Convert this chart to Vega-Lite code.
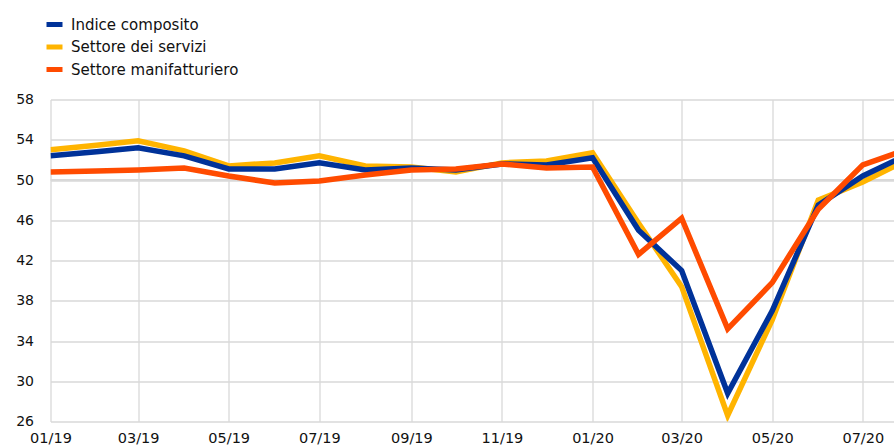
{
  "$schema": "https://vega.github.io/schema/vega-lite/v6.json",
  "autosize": {"type": "none"},
  "padding": {"left": 50.5, "top": 99.5, "right": 0, "bottom": 23.5},
  "width": 843.5,
  "height": 322,
  "background": "white",
  "config": {
    "view": {"stroke": null},
    "font": "DejaVu Sans"
  },
  "datasets": {
    "pmi": [
      {"date": "2019-01-01", "series": "Settore dei servizi", "value": 53.0},
      {"date": "2019-02-01", "series": "Settore dei servizi", "value": 53.45},
      {"date": "2019-03-01", "series": "Settore dei servizi", "value": 53.9},
      {"date": "2019-04-01", "series": "Settore dei servizi", "value": 52.9},
      {"date": "2019-05-01", "series": "Settore dei servizi", "value": 51.4},
      {"date": "2019-06-01", "series": "Settore dei servizi", "value": 51.7},
      {"date": "2019-07-01", "series": "Settore dei servizi", "value": 52.4},
      {"date": "2019-08-01", "series": "Settore dei servizi", "value": 51.4},
      {"date": "2019-09-01", "series": "Settore dei servizi", "value": 51.3},
      {"date": "2019-10-01", "series": "Settore dei servizi", "value": 50.8},
      {"date": "2019-11-01", "series": "Settore dei servizi", "value": 51.7},
      {"date": "2019-12-01", "series": "Settore dei servizi", "value": 51.9},
      {"date": "2020-01-01", "series": "Settore dei servizi", "value": 52.7},
      {"date": "2020-02-01", "series": "Settore dei servizi", "value": 45.7},
      {"date": "2020-03-01", "series": "Settore dei servizi", "value": 39.4},
      {"date": "2020-04-01", "series": "Settore dei servizi", "value": 26.6},
      {"date": "2020-05-01", "series": "Settore dei servizi", "value": 36.1},
      {"date": "2020-06-01", "series": "Settore dei servizi", "value": 48.0},
      {"date": "2020-07-01", "series": "Settore dei servizi", "value": 49.8},
      {"date": "2020-08-01", "series": "Settore dei servizi", "value": 52.1},
      {"date": "2019-01-01", "series": "Indice composito", "value": 52.4},
      {"date": "2019-02-01", "series": "Indice composito", "value": 52.8},
      {"date": "2019-03-01", "series": "Indice composito", "value": 53.2},
      {"date": "2019-04-01", "series": "Indice composito", "value": 52.4},
      {"date": "2019-05-01", "series": "Indice composito", "value": 51.1},
      {"date": "2019-06-01", "series": "Indice composito", "value": 51.1},
      {"date": "2019-07-01", "series": "Indice composito", "value": 51.7},
      {"date": "2019-08-01", "series": "Indice composito", "value": 51.0},
      {"date": "2019-09-01", "series": "Indice composito", "value": 51.2},
      {"date": "2019-10-01", "series": "Indice composito", "value": 51.0},
      {"date": "2019-11-01", "series": "Indice composito", "value": 51.6},
      {"date": "2019-12-01", "series": "Indice composito", "value": 51.5},
      {"date": "2020-01-01", "series": "Indice composito", "value": 52.2},
      {"date": "2020-02-01", "series": "Indice composito", "value": 45.0},
      {"date": "2020-03-01", "series": "Indice composito", "value": 41.0},
      {"date": "2020-04-01", "series": "Indice composito", "value": 28.8},
      {"date": "2020-05-01", "series": "Indice composito", "value": 37.0},
      {"date": "2020-06-01", "series": "Indice composito", "value": 47.5},
      {"date": "2020-07-01", "series": "Indice composito", "value": 50.4},
      {"date": "2020-08-01", "series": "Indice composito", "value": 52.6},
      {"date": "2019-01-01", "series": "Settore manifatturiero", "value": 50.8},
      {"date": "2019-02-01", "series": "Settore manifatturiero", "value": 50.9},
      {"date": "2019-03-01", "series": "Settore manifatturiero", "value": 51.0},
      {"date": "2019-04-01", "series": "Settore manifatturiero", "value": 51.2},
      {"date": "2019-05-01", "series": "Settore manifatturiero", "value": 50.4},
      {"date": "2019-06-01", "series": "Settore manifatturiero", "value": 49.7},
      {"date": "2019-07-01", "series": "Settore manifatturiero", "value": 49.9},
      {"date": "2019-08-01", "series": "Settore manifatturiero", "value": 50.5},
      {"date": "2019-09-01", "series": "Settore manifatturiero", "value": 51.0},
      {"date": "2019-10-01", "series": "Settore manifatturiero", "value": 51.1},
      {"date": "2019-11-01", "series": "Settore manifatturiero", "value": 51.6},
      {"date": "2019-12-01", "series": "Settore manifatturiero", "value": 51.2},
      {"date": "2020-01-01", "series": "Settore manifatturiero", "value": 51.3},
      {"date": "2020-02-01", "series": "Settore manifatturiero", "value": 42.6},
      {"date": "2020-03-01", "series": "Settore manifatturiero", "value": 46.2},
      {"date": "2020-04-01", "series": "Settore manifatturiero", "value": 35.2},
      {"date": "2020-05-01", "series": "Settore manifatturiero", "value": 39.8},
      {"date": "2020-06-01", "series": "Settore manifatturiero", "value": 47.1},
      {"date": "2020-07-01", "series": "Settore manifatturiero", "value": 51.5},
      {"date": "2020-08-01", "series": "Settore manifatturiero", "value": 53.1}
    ],
    "ref": [{"level": 50}]
  },
  "layer": [
    {
      "data": {"name": "ref"},
      "mark": {"type": "rule", "color": "#d9d9d9", "strokeWidth": 2},
      "encoding": {
        "y": {"field": "level", "type": "quantitative", "scale": {"domain": [26, 58]}}
      }
    },
    {
      "data": {"name": "pmi"},
      "mark": {"type": "line", "strokeWidth": 5.5, "strokeJoin": "miter", "clip": true},
      "encoding": {
        "x": {
          "field": "date",
          "type": "temporal",
          "scale": {"type": "utc", "domain": ["2019-01-01", "2020-07-22"]},
          "axis": {
            "title": null,
            "labelExpr": "utcFormat(datum.value, '%m/%y')",
            "tickCount": {"interval": "month", "step": 2},
            "domain": false,
            "ticks": false,
            "grid": true,
            "gridColor": "#d9d9d9",
            "gridWidth": 1.3,
            "labelFont": "DejaVu Sans",
            "labelFontSize": 14.5,
            "labelColor": "#111111",
            "labelPadding": 10,
            "labelBaseline": "top",
            "labelFlush": false,
            "labelOverlap": false
          }
        },
        "y": {
          "field": "value",
          "type": "quantitative",
          "scale": {"domain": [26, 58], "nice": false, "zero": false},
          "axis": {
            "title": null,
            "values": [26, 30, 34, 38, 42, 46, 50, 54, 58],
            "domain": false,
            "ticks": false,
            "grid": true,
            "gridColor": "#d9d9d9",
            "gridWidth": 1.3,
            "labelFont": "DejaVu Sans",
            "labelFontSize": 14,
            "labelColor": "#111111",
            "labelPadding": 17,
            "labelFlush": false
          }
        },
        "color": {
          "field": "series",
          "type": "nominal",
          "scale": {
            "domain": ["Indice composito", "Settore dei servizi", "Settore manifatturiero"],
            "range": ["#003299", "#ffb400", "#ff4b00"]
          },
          "legend": {
            "title": null,
            "orient": "none",
            "legendX": -6.5,
            "legendY": -85.5,
            "direction": "vertical",
            "symbolType": "stroke",
            "symbolSize": 256,
            "symbolStrokeWidth": 5,
            "labelFont": "DejaVu Sans",
            "labelFontSize": 15,
            "labelColor": "#111111",
            "labelOffset": 6,
            "labelLimit": 0,
            "rowPadding": 1.5,
            "padding": 0
          }
        }
      }
    }
  ]
}
